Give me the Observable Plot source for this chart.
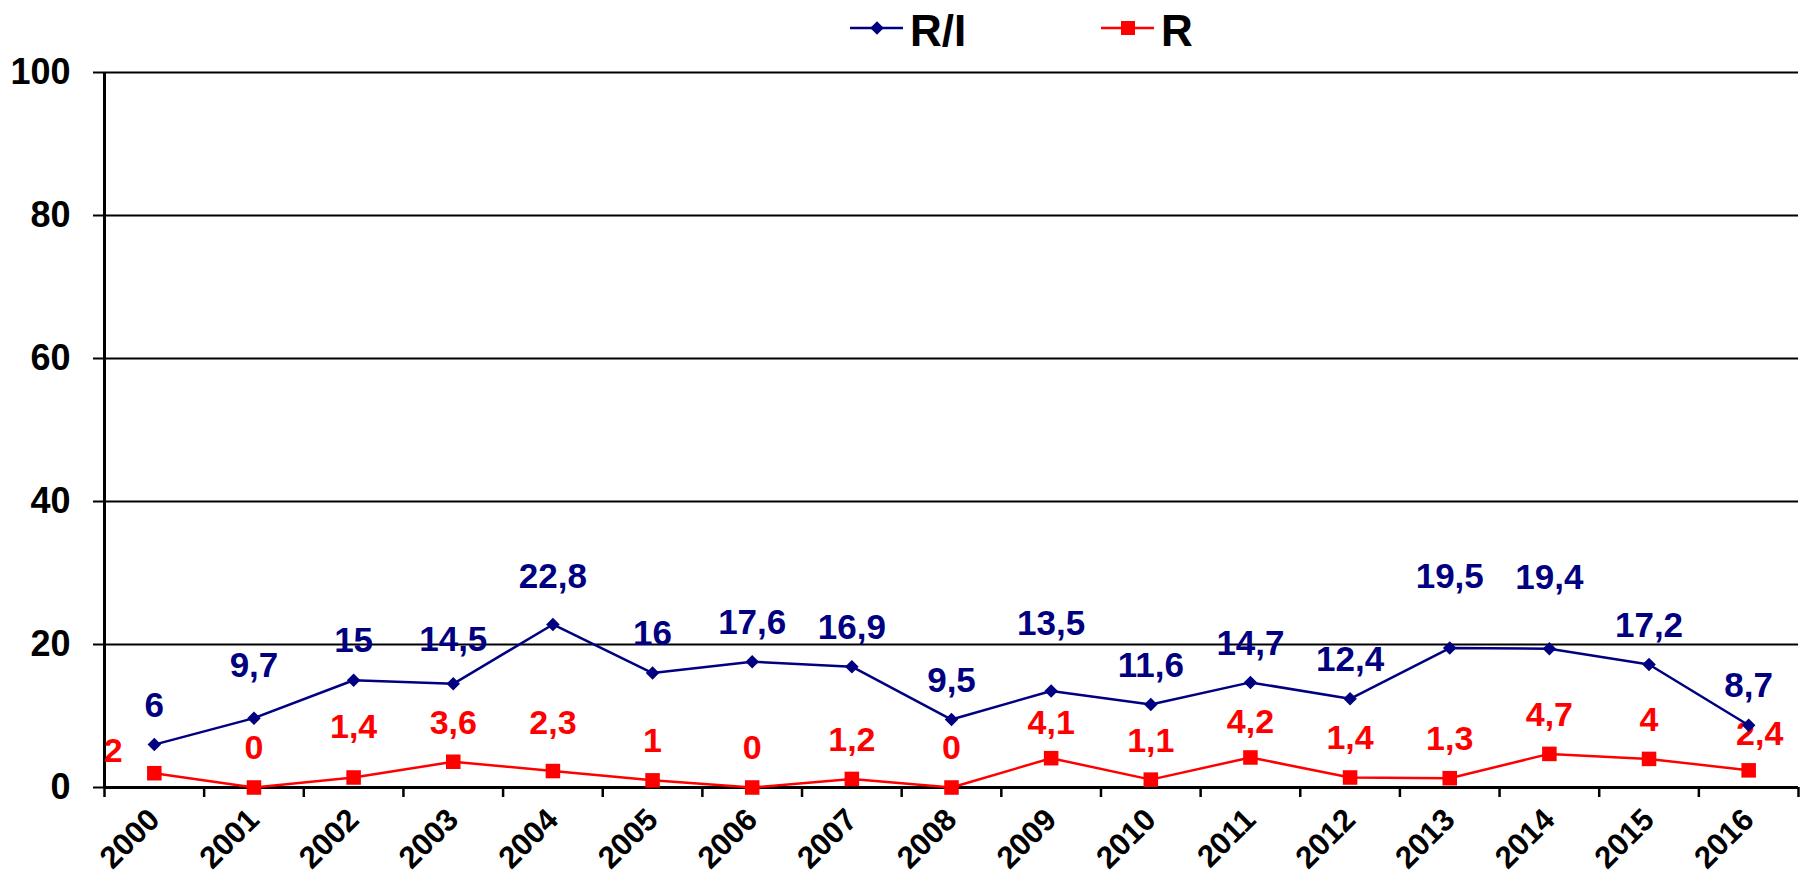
<!DOCTYPE html>
<html><head><meta charset="utf-8">
<script src="https://cdn.jsdelivr.net/npm/d3@7"></script>
<script src="https://cdn.jsdelivr.net/npm/@observablehq/plot@0.6"></script>
<style>
body{margin:0;background:#fff;font-family:"Liberation Sans",Arial,sans-serif;}
#legend{position:relative;height:48px;width:1806px;z-index:2;}
.sw{position:absolute;top:18px;}
.lt{position:absolute;top:6px;font-weight:bold;font-size:44px;line-height:normal;color:#000;}
#chart svg{overflow:visible;display:block;}
</style></head><body>
<div id="legend"></div>
<div id="chart"></div>
<script>
const years = [2000,2001,2002,2003,2004,2005,2006,2007,2008,2009,2010,2011,2012,2013,2014,2015,2016];
const seriesRI = [6,9.7,15,14.5,22.8,16,17.6,16.9,9.5,13.5,11.6,14.7,12.4,19.5,19.4,17.2,8.7];
const seriesR = [2,0,1.4,3.6,2.3,1,0,1.2,0,4.1,1.1,4.2,1.4,1.3,4.7,4,2.4];
const yTicks = [0,20,40,60,80,100];
const seriesNames = ["R/I","R"];
const seriesColors = ["#000080","#ff0000"];

const data = years.map((year,i)=>({year, ri: seriesRI[i], r: seriesR[i]}));
const boundaries = years.map(y=>y-0.5).concat(years[years.length-1]+0.5);
const fmt = v => String(v).replace(".", ",");

// label placement tweaks (pixels), like the hand-moved labels of the original
const liftRI = {2001:-52, 2003:-44, 2004:-48, 2009:-67, 2013:-71, 2014:-71};
const liftR = {2002:-50, 2004:-48, 2009:-35, 2011:-35};
const shiftR = {2000:[-41,-22], 2016:[11,-36]};

function labelMarks(key, color, lift, shift, def, size){
  const groups = d3.group(data, d => {
    if (shift && shift[d.year]) return shift[d.year].join("|");
    return "0|" + (lift[d.year] ?? def);
  });
  return Array.from(groups, ([k, rows]) => {
    const [dx, dy] = k.split("|").map(Number);
    return Plot.text(rows, {x:"year", y:key, text: d=>fmt(d[key]), dx, dy, fill:color, fontSize:size, fontWeight:"bold"});
  });
}

const chart = Plot.plot({
  width: 1806, height: 834,
  marginLeft: 104, marginRight: 8, marginTop: 24, marginBottom: 95,
  style: {fontFamily: '"Liberation Sans", Arial, sans-serif', fontWeight: "bold", color:"#000", background:"#fff", overflow:"visible"},
  x: {type:"linear", domain:[boundaries[0], boundaries[boundaries.length-1]]},
  y: {domain:[0,100]},
  marks: [
    Plot.gridY(yTicks, {stroke:"#000", strokeOpacity:1, strokeWidth:2}),
    Plot.axisY(yTicks, {tickSize:11, tickPadding:23, fontSize:36, strokeWidth:2, label:null, tickFormat:d=>String(d)}),
    Plot.ruleX([boundaries[0]], {stroke:"#000", strokeWidth:3}),
    Plot.ruleY([0], {stroke:"#000", strokeWidth:3}),
    Plot.axisX(boundaries, {tickSize:10, strokeWidth:2.5, tickFormat:()=>"", label:null}),
    Plot.axisX(years, {tickSize:0, tickRotate:-45, tickPadding:27, fontSize:31, tickFormat:d=>String(d), label:null}),
    Plot.line(data, {x:"year", y:"r", stroke:seriesColors[1], strokeWidth:2.5}),
    Plot.dot(data, {x:"year", y:"r", symbol:"square", r:8.2, fill:seriesColors[1], stroke:null}),
    ...labelMarks("r", seriesColors[1], liftR, shiftR, -39, 34),
    Plot.line(data, {x:"year", y:"ri", stroke:seriesColors[0], strokeWidth:2.5}),
    Plot.dot(data, {x:"year", y:"ri", symbol:"square", rotate:45, r:5.4, fill:seriesColors[0], stroke:null}),
    ...labelMarks("ri", seriesColors[0], liftRI, null, -39, 35)
  ]
});
document.getElementById("chart").appendChild(chart);

// legend
const legend = d3.select("#legend");
const legendX = [850, 1101];
seriesNames.forEach((name, i) => {
  const sw = legend.append("svg").attr("class","sw").style("left", legendX[i]+"px").attr("width",54).attr("height",20);
  sw.append("line").attr("x1",0).attr("x2",53).attr("y1",10).attr("y2",10).attr("stroke",seriesColors[i]).attr("stroke-width",2.5);
  if (i === 0) sw.append("rect").attr("x",-4.8).attr("y",-4.8).attr("width",9.6).attr("height",9.6).attr("fill",seriesColors[i]).attr("transform","translate(27,10) rotate(45)");
  else sw.append("rect").attr("x",27-7).attr("y",3).attr("width",14).attr("height",14).attr("fill",seriesColors[i]);
  legend.append("span").attr("class","lt").style("left",(legendX[i]+60)+"px").text(name);
});
</script>
</body></html>
